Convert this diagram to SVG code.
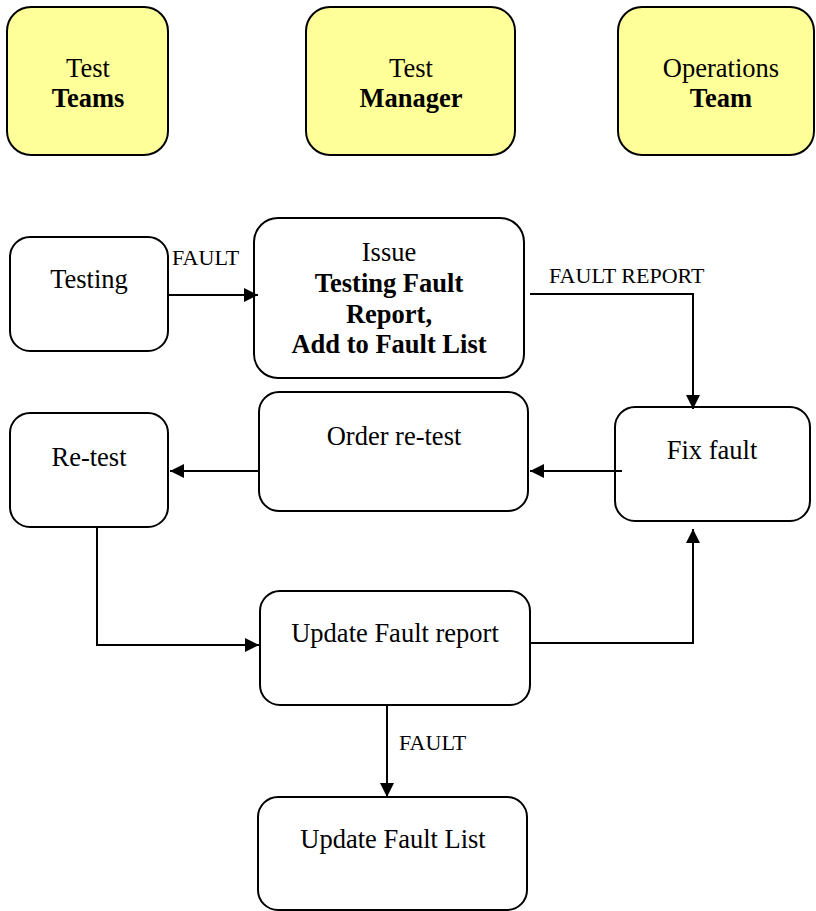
<svg xmlns="http://www.w3.org/2000/svg" width="816" height="911" viewBox="0 0 816 911">
  <style>
    .box { fill: #ffffff; stroke: #000000; stroke-width: 2; }
    .role { fill: #ffff99; stroke: #000000; stroke-width: 2; }
    .t { font-family: "Liberation Serif", "Times New Roman", serif; font-size: 26.5px; fill: #000000; text-anchor: middle; }
    .b { font-weight: bold; }
    .lbl { font-family: "Liberation Serif", "Times New Roman", serif; font-size: 22px; fill: #000000; }
    .wire { fill: none; stroke: #000000; stroke-width: 2; }
  </style>
  <defs>
    <marker id="arrow" viewBox="0 0 10 10" refX="10" refY="5" markerWidth="14" markerHeight="14" markerUnits="userSpaceOnUse" orient="auto">
      <path d="M0,0 L10,5 L0,10 z" fill="#000000"/>
    </marker>
  </defs>

  <rect width="816" height="911" fill="#ffffff"/>

  <!-- role headers -->
  <g id="test-teams">
    <rect class="role" x="7" y="7" width="161" height="148" rx="24"/>
    <text class="t" x="88" y="77">Test</text>
    <text class="t b" x="88" y="107">Teams</text>
  </g>
  <g id="test-manager">
    <rect class="role" x="306" y="7" width="209" height="148" rx="24"/>
    <text class="t" x="411" y="77">Test</text>
    <text class="t b" x="411" y="107">Manager</text>
  </g>
  <g id="operations-team">
    <rect class="role" x="618" y="7" width="196" height="148" rx="24"/>
    <text class="t" x="721" y="77">Operations</text>
    <text class="t b" x="721" y="107">Team</text>
  </g>

  <!-- process steps -->
  <g id="testing">
    <rect class="box" x="10" y="237" width="158" height="114" rx="20"/>
    <text class="t" x="89" y="288">Testing</text>
  </g>
  <g id="issue-report">
    <rect class="box" x="254" y="218" width="270" height="160" rx="24"/>
    <text class="t" x="389" y="261">Issue</text>
    <text class="t b" x="389" y="292">Testing Fault</text>
    <text class="t b" x="389" y="323">Report,</text>
    <text class="t b" x="389" y="353">Add to Fault List</text>
  </g>
  <g id="order-retest">
    <rect class="box" x="259" y="392" width="269" height="119" rx="20"/>
    <text class="t" x="394" y="445">Order re-test</text>
  </g>
  <g id="retest">
    <rect class="box" x="10" y="413" width="158" height="114" rx="20"/>
    <text class="t" x="89" y="466">Re-test</text>
  </g>
  <g id="fix-fault">
    <rect class="box" x="615" y="407" width="195" height="114" rx="20"/>
    <text class="t" x="712" y="459">Fix fault</text>
  </g>
  <g id="update-report">
    <rect class="box" x="260" y="591" width="270" height="114" rx="20"/>
    <text class="t" x="395" y="642">Update Fault report</text>
  </g>
  <g id="update-list">
    <rect class="box" x="258" y="797" width="269" height="113" rx="20"/>
    <text class="t" x="393" y="848">Update Fault List</text>
  </g>

  <!-- connectors -->
  <g id="connectors">
    <path class="wire" d="M168,295 H258" marker-end="url(#arrow)"/>
    <path class="wire" d="M530,294 H693 V409" marker-end="url(#arrow)"/>
    <path class="wire" d="M622,471 H530" marker-end="url(#arrow)"/>
    <path class="wire" d="M259,471 H170" marker-end="url(#arrow)"/>
    <path class="wire" d="M97,527 V645 H259" marker-end="url(#arrow)"/>
    <path class="wire" d="M530,643 H693 V529" marker-end="url(#arrow)"/>
    <path class="wire" d="M387,705 V797" marker-end="url(#arrow)"/>
    <text class="lbl" x="172" y="265">FAULT</text>
    <text class="lbl" x="549" y="283">FAULT REPORT</text>
    <text class="lbl" x="399" y="750">FAULT</text>
  </g>
</svg>
